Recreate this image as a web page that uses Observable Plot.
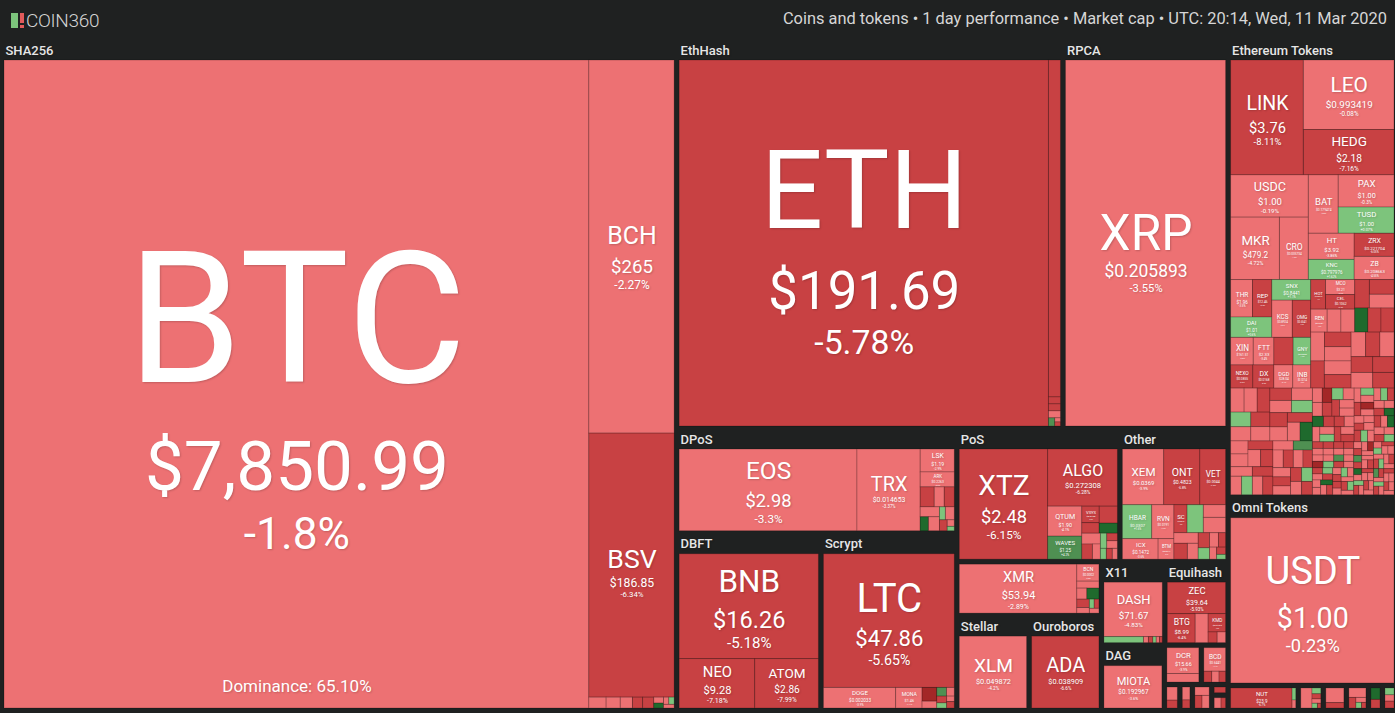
<!DOCTYPE html>
<html><head><meta charset="utf-8">
<script src="https://cdn.jsdelivr.net/npm/d3@7"></script>
<script src="https://cdn.jsdelivr.net/npm/@observablehq/plot@0.6"></script>
<style>
html,body{margin:0;padding:0;background:#1f2121;overflow:hidden;}
#hdr{height:40px;position:relative;font-family:Roboto,sans-serif;}
#logo{position:absolute;left:11px;top:10px;height:20px;display:flex;align-items:center;}
#logo .txt{font-weight:300;font-size:19px;color:#d4d4d4;margin-left:1px;letter-spacing:-0.3px;}
#info{position:absolute;right:8px;top:9px;font-size:16.4px;color:#d6d6d6;}
#chart svg{display:block}
#chart svg text{text-shadow:1px 1px 2px rgba(0,0,0,0.18);}
</style></head><body>
<div id="hdr"><div id="logo"><svg width="14" height="16"><rect x="0" y="1" width="7" height="15" fill="#7cc47c"/><rect x="9" y="1" width="4" height="10" fill="#e25b5b"/><rect x="9" y="13" width="4" height="3" fill="#e25b5b"/></svg><span class="txt">COIN360</span></div>
<div id="info">Coins and tokens • 1 day performance • Market cap • UTC: 20:14, Wed, 11 Mar 2020</div></div>
<div id="chart"></div>
<script>
// Each coin: [symbol, price, 1-day change %, size]
const sha256 = [["BTC","$7,850.99",-1.8,394000],["BCH","$265",-2.27,33070],["BSV","$186.85",-6.34,23405],
  ["","",-3.1,195],["","",-2.4,160],["","",-3.8,138],["","",-6.2,115],["","",-7.5,126],["","",-2.2,60],["","",8.5,50],["","",-3,40],["","",1.5,40],["","",-4,40]];
const ethhash = [["ETH","$191.69",-5.78,145055],["ETC","$6.61",-7.04,4342],["","",-7,90],["","",-6,90],["","",-3,90],["","",4,55],["","",-2,25],["","",-8,25]];
const rpca = [["XRP","$0.205893",-3.55,64020]];
const omni = [["USDT","$1.00",-0.23,31584]];
const ethTop = [["LINK","$3.76",-8.11,9030],["LEO","$0.993419",-0.08,6813],["HEDG","$2.18",-7.16,4443],["USDC","$1.00",-0.19,3554],
  ["MKR","$479.2",-4.72,3296],["CRO","$0.035734",-1.6,1951],["BAT","$0.179474",-2.8,1888],["PAX","$1.00",-0.3,1944],
  ["TUSD","$1.00",0.07,1580],["HT","$3.92",-3.86,1298],["KNC","$0.797976",1.62,998],["ZRX","$0.221704",-6.05,998],["ZB","$0.208663",-4.55,998]];
const ethMidNamed = [["THR","$1.96",-3.5,886],["REP","$12.46",-6.2,783],["DAI","$1.01",0.6,907],["SNX","$0.8441",1.1,866],
  ["KCS","$0.8924",-3.9,825],["OMG","$0.6541",-7.2,742],["XIN","$161.51",-2.8,674],["FTT","$2.33",-3.4,615],["NEXO","$0.0855",-6.6,557],
  ["DX","$0.0168",-5.9,527],["THETA","$0.0766",-7.8,574],["GNY","$0.0502",1.8,524],["DGD","$28.04",-3.1,474],["INB","$0.3214",-2.9,449],
  ["HOT","$0.000649",-6.1,474],["MCO","$3.21",-3.9,474],["CEL","$0.1062",-6.4,461],["REN","$0.0481",-4.2,407],["SEELE","$0.1361",-3.3,342],["MOF","$1.16",-2.4,342]];
const ethMidSize = [451,391,365,342,342,339], ethMidChange = [-7,-6.5,-3,9,-6,-7];
const ethRightSize = [430,420,410,400,395,390,385,380,375,370,365,363];
const ethRightChange = [-3,-6,-2,-7,-4,-8,-3,-5.5,-2,-6,-3,-7];
const ethTailASize = [360,350,340,330,320,310,300,295,290,285,280,275,270,265,260,255,250,245,240,236,232,228,224,220,216,212,208,204,200,196,192,188,184,180,176,172];
const ethTailAChange = [-6,-3,-4,-7,2,-3,-8,-2,-5.5,-3,-4,1,-7,-3,-6,-2,8,-4,-3,-6,-2,-7,-4,-3,1.5,-6,-3,-9,-2,-4,-6,3,-3,-7,-2,-5.5];
const ethTailBSize = [168,165,162,159,156,153,150,147,144,141,138,135,132,129,126,123,120,118,116,114,112,110,108,106,104,102,100,98,96,94,92,90,88,86,84,82,80,78,76,74];
const ethTailBChange = [-3,-7,1,-4,-6,-2,-12,-3,-5.5,1.2,-4,-8,-3,-2,7,-6,-3,-4,1,-7,-3,-5.5,-2,-9,-4,2,-3,-6,-11,-3,-4,1,-7,-2,-6,-3,8,-4,-5.5,-3];
const ethTailCSize = [85,84,83,83,82,81,80,80,79,78,78,77,76,76,75,74,74,73,73,72,71,71,70,70,69,69,68,68,67,67,66,66,65,65,64,64,63,63,62,62,
  62,61,61,60,60,60,59,59,58,58,58,57,57,57,56,56,56,55,55,55,54,54,54,53,53,53,53,52,52,52,51,51,51,51,50,50,50,50,49,49,49,49,48,48,48,48,47,47,47,47];
const ethTailCChange = [-3,-7,2,-4,-6,-2,9,-3,-5.5,-4,1,-8,-3,-6,-2,-4,-12,-3,1.5,-7,-2,-5.5,-3,4,-6,-4,-2,-8,-3,1,
  -6,-3,-4,7,-2,-7,-3,-5.5,2,-4,-3,-9,-2,-6,1,-3,-4,-7,-2,-11,-3,3,-5.5,-4,-2,-6,-3,1.2,-8,-3,
  -4,-2,-7,2,-3,-6,-4,10,-2,-5.5,-3,-4,1,-7,-3,-6,-2,-4,2.5,-8,-3,-5.5,-2,-4,1,-6,-3,-9,-4,-2];
const dpos = [["EOS","$2.98",-3.3,18900],["TRX","$0.014653",-3.37,6716],["LSK","$1.19",-2.9,1017],["ARK","$0.2263",-3.6,663],["STEEM","$0.1704",-7.1,364],
  ["","",-4.2,260],["","",-6.3,260],["","",-3.1,250],["","",7.2,150],["","",-2.5,200],["","",1.4,100],["","",-3.8,150],["","",-6.5,110],["","",-4,60],["","",2,40]];
const dbft = [["BNB","$16.26",-5.18,17330],["NEO","$9.28",-7.18,4430],["ATOM","$2.86",-7.99,3730]];
const scrypt = [["LTC","$47.86",-5.65,20800],["DOGE","$0.002033",-3.9,1767],["MONA","$1.46",-4.1,645],
  ["","",-12,240],["","",-3,120],["","",3,100],["","",-4,80],["","",-7,80],["","",1.5,60],["","",-3,50],["","",-8,58]];
const pos = [["XTZ","$2.48",-6.15,12100],["ALGO","$0.272308",-6.28,4950],["QTUM","$1.90",-4.1,1273],["WAVES","$1.25",4.2,976],["VSYS","$0.0435",-6.2,357],
  ["","",-7.5,227],["","",-6.4,384],["","",7.5,227],["","",-3,250],["","",-6,200],["","",-2,150],["","",1.5,120],["","",-7,100],["","",-4,100],["","",2,80],["","",-8,80],["","",-3,68]];
const other = [["XEM","$0.0369",-3.9,2910],["ONT","$0.4823",-6.8,2540],["VET","$0.0044",-7.3,1815],["HBAR","$0.0307",1.6,1257],["RVN","$0.0191",-4.3,950],
  ["ICX","$0.1472",-3.6,925],["BTM","$0.0617",-3.4,410],["SC","$0.0018",-5.6,465],["STRM","$0.0093",1.4,575],["","",-3.2,356],
  ["","",-3,432],["","",-2.5,324],["","",-6.5,270],["","",-3.5,216],["","",-7,216],["","",1.2,162],["","",-4,162],["","",-6,130],["","",-2,108],["","",-8,83],["","",2,54]];
const cryptonight = [["XMR","$53.94",-2.89,6547],["BCN","$0.0002",-3.5,427],["","",-3.2,176],["","",-2.7,126],["","",8,151],["","",-7,120],["","",-3,80],["","",2,50],["","",-8,50],["","",-4,52]];
const stellar = [["XLM","$0.049872",-4.2,6840]];
const ouroboros = [["ADA","$0.038909",-6.6,6840]];
const x11 = [["DASH","$71.67",-4.83,4744],["","",1.8,357],["","",-3,45],["","",-7,40],["","",2,30],["","",-3.5,30],["","",-6,25]];
const equihash = [["ZEC","$39.64",-5.93,2740],["BTG","$8.99",-6.4,1210],["","",-3.8,560],["KMD","$0.5433",-7.2,480],["","",-6.3,145],["","",-3.4,135]];
const dag = [["MIOTA","$0.192967",-3.6,4100]];
const blake256 = [["DCR","$15.66",-3.9,1090],["","",-3.4,360]];
const x13 = [["BCD","$0.6441",-4.1,720],["","",-6.5,120],["","",-3.2,110],["","",-7,100]];
const blake2b = [["","",-3,250],["","",-7,150]];
const neoscrypt = [["","",-3.5,200],["","",-8,125]];
const lyra2 = [["","",-3,200],["","",-6,150],["","",-4,150]];
const groestl = [["","",-7,175]];
const quark = [["","",-3,150],["","",-6,100]];
const tronTokens = [["NUT","$23.9",-6.7,1650],["","",1.5,60],["","",-3,40]];
const bnbTokens = [["","",-3,350],["","",1.2,80],["","",-7,70],["","",-3,60],["","",2,40],["","",-6,25]];
const eosTokens = [["","",-3,420],["","",-6.5,155]];
const neoTokens = [["","",-3,260],["","",-6,120],["","",-2.5,80],["","",1.5,50],["","",-7,40]];
const wavesTokens = [["","",7,200],["","",-6,150]];
const ontTokens = [["","",1.5,120],["","",-3,110],["","",-6.5,120]];

const zipTail = (s, c) => s.map((v, i) => ["", "", c[i], v]);
const ethTokens = [...ethTop, ...ethMidNamed, ...zipTail(ethMidSize, ethMidChange), ...zipTail(ethRightSize, ethRightChange),
  ...zipTail(ethTailASize, ethTailAChange), ...zipTail(ethTailBSize, ethTailBChange), ...zipTail(ethTailCSize, ethTailCChange)];

const groupCoins = {"SHA256": sha256, "EthHash": ethhash, "RPCA": rpca, "Ethereum Tokens": ethTokens, "Omni Tokens": omni,
  "DPoS": dpos, "DBFT": dbft, "Scrypt": scrypt, "PoS": pos, "Other": other, "CryptoNight": cryptonight, "Stellar": stellar,
  "Ouroboros": ouroboros, "X11": x11, "Equihash": equihash, "DAG": dag, "Blake256": blake256, "X13": x13,
  "Blake2b": blake2b, "NeoScrypt": neoscrypt, "Lyra2REv2": lyra2, "Groestl": groestl, "Quark": quark,
  "TRON Tokens": tronTokens, "Binance Tokens": bnbTokens, "EOS Tokens": eosTokens, "NEO Tokens": neoTokens, "Waves Tokens": wavesTokens, "Ontology Tokens": ontTokens};

const layoutTree = ["SHA256",
  [[["EthHash","RPCA"],
    [["DPoS",["DBFT","Scrypt"]],
     [["PoS","Other"],
      [["CryptoNight",["Stellar","Ouroboros"]],
       [["X11","Equihash"],["DAG",[["Blake256","X13"],["Blake2b","NeoScrypt","Lyra2REv2","Groestl","Quark"]]]]]]]],
   ["Ethereum Tokens",["Omni Tokens",["TRON Tokens","Binance Tokens","EOS Tokens","NEO Tokens","Waves Tokens","Ontology Tokens"]]]]];

const dominance = "65.10%";
const W = 1395, H = 673;

function buildNode(spec) {
  if (typeof spec === "string")
    return {name: spec, group: true, children: groupCoins[spec].map(c => ({sym: c[0], price: c[1], change: c[2], value: c[3], groupName: spec}))};
  return {name: "", children: spec.map(buildNode)};
}
const showHeader = n => (n.y1 - n.y0) >= 60 && (n.x1 - n.x0) >= 30;
const root = d3.hierarchy(buildNode(layoutTree)).sum(d => d.children ? 0 : d.value);
d3.treemap().size([W, H - 2]).tile(d3.treemapBinary)
  .paddingTop(n => n.data.group ? (showHeader(n) ? 20 : 2) : 0)
  .paddingLeft(n => n.data.group ? 4 : 0)
  .paddingRight(n => n.data.group ? 1 : 0)
  .paddingBottom(n => n.data.group ? 3 : 0)(root);

const ctx = document.createElement("canvas").getContext("2d");
function em(t, wt = 400) { ctx.font = `${wt} 100px Roboto`; return ctx.measureText(t).width / 100; }

const leaves = root.leaves();
const cells = leaves.map(l => ({x0: l.x0, x1: l.x1, y0: l.y0, y1: l.y1, change: l.data.change}));
const lab = [];
for (const l of leaves) {
  const d = l.data; if (!d.sym) continue;
  const w = l.x1 - l.x0, h = l.y1 - l.y0;
  const f1 = Math.min(0.58 * w / em(d.sym), 0.3 * h);
  if (f1 < 4) continue;
  const chg = (d.change > 0 ? "+" : "") + d.change + "%";
  const f2 = Math.min(0.52 * w / em(d.price), 0.75 * f1);
  const f3 = 0.64 * f2;
  const g1 = Math.max(0.8 * f2, 1.5), g2 = Math.max(0.6 * f3, 1.5);
  const bh = 0.71 * f1 + g1 + 0.71 * f2 + g2 + 0.71 * f3;
  const cx = (l.x0 + l.x1) / 2, top = (l.y0 + l.y1) / 2 - bh / 2 + 0.03 * h;
  lab.push({x: cx, y: top + 0.355 * f1, t: d.sym, fs: f1});
  lab.push({x: cx, y: top + 0.71 * f1 + g1 + 0.355 * f2, t: d.price, fs: f2});
  lab.push({x: cx, y: top + 0.71 * f1 + g1 + 0.71 * f2 + g2 + 0.355 * f3, t: chg, fs: f3});
}
const btc = leaves.find(l => l.data.sym === "BTC");
const domLab = [{x: (btc.x0 + btc.x1) / 2, y: btc.y1 - 22, t: "Dominance: " + dominance}];

const heads = [];
for (const n of root.descendants()) {
  if (!n.data.group || !showHeader(n)) continue;
  const maxW = n.x1 - n.x0 - 10;
  let fs = 13, t = n.data.name;
  while (fs > 11.5 && em(t, 500) * fs > maxW) fs -= 0.25;
  if (em(t, 500) * fs > maxW) { while (t.length > 1 && em(t + "...", 500) * fs > maxW) t = t.slice(0, -1); t += "..."; }
  heads.push({x: n.x0 + 5, y: n.y0 + 10, t, fs});
}

const chart = Plot.plot({
  width: W, height: H, margin: 0,
  x: {domain: [0, W], range: [0, W], axis: null},
  y: {domain: [0, H], range: [0, H], axis: null},
  color: {type: "threshold", domain: [-10, -5, 0, 2.5, 6], range: ["#a32727", "#c84143", "#ed7173", "#7dc47c", "#4f9052", "#1f6a2d"]},
  style: {background: "#1f2121", fontFamily: "Roboto, sans-serif"},
  marks: [
    Plot.rect(cells, {x1: "x0", x2: "x1", y1: "y0", y2: "y1", fill: "change", stroke: "#000", strokeOpacity: 0.2, strokeWidth: 1}),
    Plot.text(heads, {x: "x", y: "y", text: "t", fontSize: d => d.fs, textAnchor: "start", fill: "#e6e6e6", fontWeight: 500}),
    Plot.text(lab, {x: "x", y: "y", text: "t", fontSize: d => d.fs, fill: "#ffffff", lineAnchor: "middle"}),
    Plot.text(domLab, {x: "x", y: "y", text: "t", fontSize: 17, fill: "#ffffff"})
  ]
});
document.getElementById("chart").appendChild(chart);
</script>
</body></html>
